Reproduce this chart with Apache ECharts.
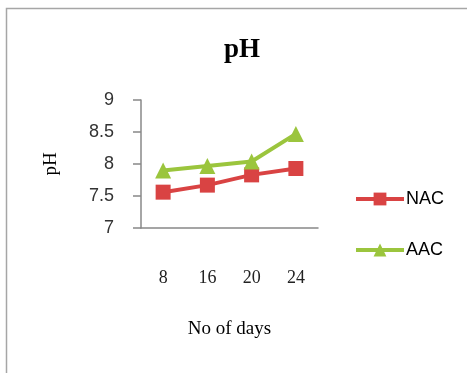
<!DOCTYPE html>
<html>
<head>
<meta charset="utf-8">
<script src="https://cdn.jsdelivr.net/npm/echarts@6/dist/echarts.min.js"></script>
<style>
  html, body { margin: 0; padding: 0; background: #fff; }
  #chart { width: 467px; height: 373px; }
</style>
</head>
<body>
<div id="chart"></div>
<script>
// Storage period (days) and measured pH for each treatment
const days = ['8', '16', '20', '24'];
const nacPH = [7.56, 7.67, 7.83, 7.93];
const aacPH = [7.90, 7.97, 8.04, 8.47];
const yTicks = { min: 7, max: 9, step: 0.5 };

const chart = echarts.init(document.getElementById('chart'), null, { renderer: 'canvas' });

chart.setOption({
  backgroundColor: '#ffffff',
  animation: false,
  graphic: [{
    type: 'rect',
    shape: { x: 6.5, y: 8.5, width: 480, height: 400 },
    style: { fill: 'none', stroke: '#a6a6a6', lineWidth: 1.5 },
    silent: true
  }],
  title: {
    text: 'pH',
    left: 237,
    textAlign: 'center',
    top: 32,
    textStyle: { fontFamily: 'Liberation Serif', fontWeight: 'bold', fontSize: 27, color: '#000' }
  },
  legend: {
    orient: 'vertical',
    left: 349,
    top: 185,
    itemGap: 33,
    itemWidth: 48,
    itemHeight: 16,
    lineStyle: { width: 4 },
    textStyle: { fontFamily: 'Liberation Sans', fontSize: 18, color: '#000', padding: [0, 0, 0, -3] },
    data: ['NAC', 'AAC']
  },
  grid: { left: 141, right: 149, top: 100, bottom: 145, containLabel: false },
  xAxis: {
    type: 'category',
    data: days,
    boundaryGap: true,
    name: 'No of days',
    nameLocation: 'middle',
    nameGap: 92,
    nameTextStyle: { fontFamily: 'Liberation Serif', fontSize: 19, color: '#000' },
    axisLine: { lineStyle: { color: '#888', width: 1.5 } },
    axisTick: { show: false },
    axisLabel: { fontFamily: 'Liberation Serif', fontSize: 18, color: '#222', margin: 41 }
  },
  yAxis: {
    type: 'value',
    min: yTicks.min,
    max: yTicks.max,
    interval: yTicks.step,
    name: 'pH',
    nameLocation: 'middle',
    nameGap: 80,
    nameRotate: 90,
    nameTextStyle: { fontFamily: 'Liberation Serif', fontSize: 19, color: '#000' },
    axisLine: { show: true, lineStyle: { color: '#888', width: 1.5 } },
    axisTick: { show: true, length: 8, lineStyle: { color: '#888', width: 1.5 } },
    splitLine: { show: false },
    axisLabel: { fontFamily: 'Liberation Sans', fontSize: 18, color: '#333', margin: 27 }
  },
  series: [
    {
      name: 'NAC',
      type: 'line',
      data: nacPH,
      symbol: 'rect',
      symbolSize: 15,
      z: 2,
      lineStyle: { color: '#d94343', width: 4 },
      itemStyle: { color: '#d94343', borderWidth: 0 }
    },
    {
      name: 'AAC',
      type: 'line',
      data: aacPH,
      symbol: 'triangle',
      symbolSize: 16,
      z: 3,
      lineStyle: { color: '#9bc53d', width: 4 },
      itemStyle: { color: '#9bc53d', borderWidth: 0 }
    }
  ]
});
</script>
</body>
</html>
